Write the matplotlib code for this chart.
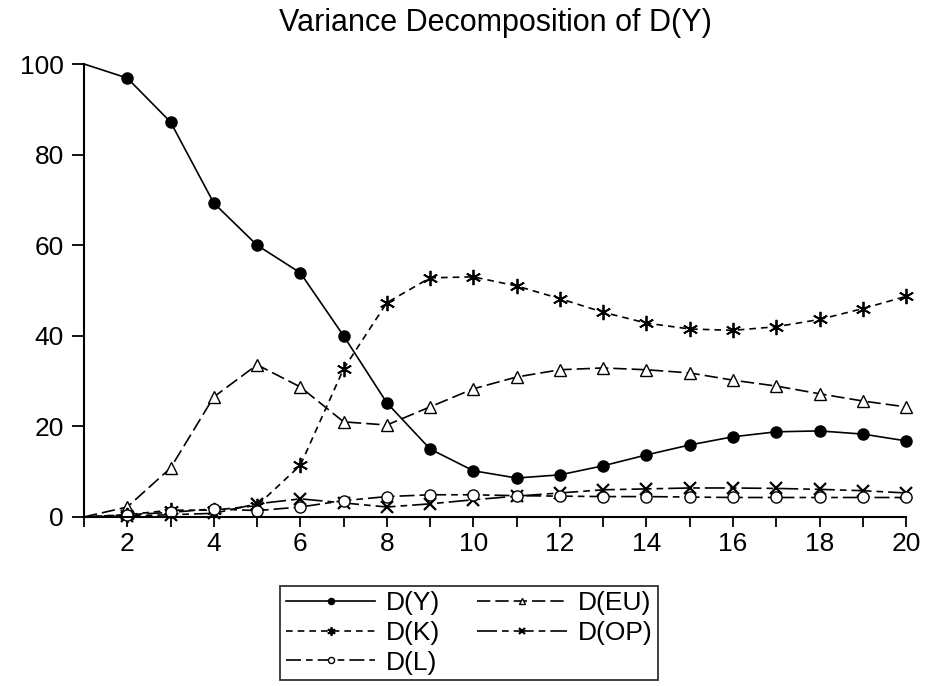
import matplotlib
matplotlib.use("Agg")
import matplotlib.pyplot as plt

plt.rcParams['font.family'] = ['Liberation Sans', 'DejaVu Sans']

# ---- data ----
periods = list(range(1, 21))
d_y = [100, 96.9, 87.2, 69.3, 60.0, 53.9, 40.0, 25.2, 15.0, 10.2,
       8.6, 9.3, 11.3, 13.7, 15.9, 17.7, 18.8, 19.0, 18.3, 16.8]
d_eu = [0, 2.2, 10.8, 26.5, 33.6, 28.7, 21.0, 20.3, 24.3, 28.3,
        30.9, 32.5, 32.9, 32.5, 31.8, 30.2, 28.9, 27.2, 25.6, 24.3]
d_k = [0, 0.5, 1.5, 1.5, 2.5, 11.4, 32.7, 47.3, 52.8, 53.0,
       51.0, 48.2, 45.2, 42.8, 41.5, 41.2, 42.0, 43.6, 46.0, 48.7]
d_op = [0, 0.2, 0.5, 0.8, 2.9, 4.0, 3.1, 2.2, 2.9, 3.8,
        4.6, 5.3, 6.0, 6.2, 6.4, 6.4, 6.3, 6.1, 5.8, 5.3]
d_l = [0, 0.5, 1.0, 1.8, 1.4, 2.2, 3.6, 4.5, 4.9, 4.9,
       4.7, 4.6, 4.5, 4.5, 4.4, 4.3, 4.3, 4.3, 4.3, 4.3]

y_ticks = [0, 20, 40, 60, 80, 100]
x_labels = [2, 4, 6, 8, 10, 12, 14, 16, 18, 20]

fig = plt.figure(figsize=(9.25, 6.86), dpi=100)
ax = fig.add_axes([0.0908, 0.2464, 0.8887, 0.6603])

lw = 1.2
skip_first = slice(1, None)   # no marker drawn at the first period
h_y, = ax.plot(periods, d_y, color='black', lw=lw, linestyle='-', markevery=skip_first,
               marker='o', markersize=8, markerfacecolor='black', label='D(Y)')
h_eu, = ax.plot(periods, d_eu, color='black', lw=lw, dashes=(8, 3), markevery=skip_first,
                marker='^', markersize=9, markerfacecolor='white', label='D(EU)')
h_k, = ax.plot(periods, d_k, color='black', lw=lw, dashes=(4, 3), markevery=skip_first,
               marker=(6, 2, 0), markersize=11, markeredgewidth=1.3, label='D(K)')
h_op, = ax.plot(periods, d_op, color='black', lw=lw, dashes=(12, 3, 4, 3), markevery=skip_first,
                marker='x', markersize=8, markeredgewidth=1.6, label='D(OP)')
h_l, = ax.plot(periods, d_l, color='black', lw=lw, dashes=(9, 3, 4, 3), markevery=skip_first,
               marker='o', markersize=8, markerfacecolor='white', label='D(L)')

ax.set_xlim(1, 20)
ax.set_ylim(0, 100)
ax.set_yticks(y_ticks)
ax.set_xticks(periods)
ax.set_xticklabels([str(p) if p in x_labels else '' for p in periods])
ax.tick_params(axis='both', labelsize=19, direction='out', length=7, width=1.3, color='black')
ax.tick_params(axis='y', length=8.5, pad=6)
ax.spines['top'].set_visible(False)
ax.spines['right'].set_visible(False)
ax.spines['left'].set_linewidth(1.5)
ax.spines['bottom'].set_linewidth(1.5)
for h in (h_y, h_eu, h_k, h_op, h_l):
    h.set_clip_on(False)

fig.text(0.536, 0.967, 'Variance Decomposition of D(Y)', ha='center', va='center', fontsize=22)

leg = fig.legend([h_y, h_k, h_l, h_eu, h_op], ['D(Y)', 'D(K)', 'D(L)', 'D(EU)', 'D(OP)'],
                 loc='upper center', bbox_to_anchor=(0.507, 0.146), ncol=2,
                 fontsize=19, frameon=True, fancybox=False, edgecolor='black',
                 handlelength=3.4, markerscale=0.55, columnspacing=1.4,
                 handletextpad=0.4, labelspacing=0.22, borderpad=0.2,
                 borderaxespad=0)
leg.get_frame().set_linewidth(1.3)

fig.savefig('out.png', dpi=100)
